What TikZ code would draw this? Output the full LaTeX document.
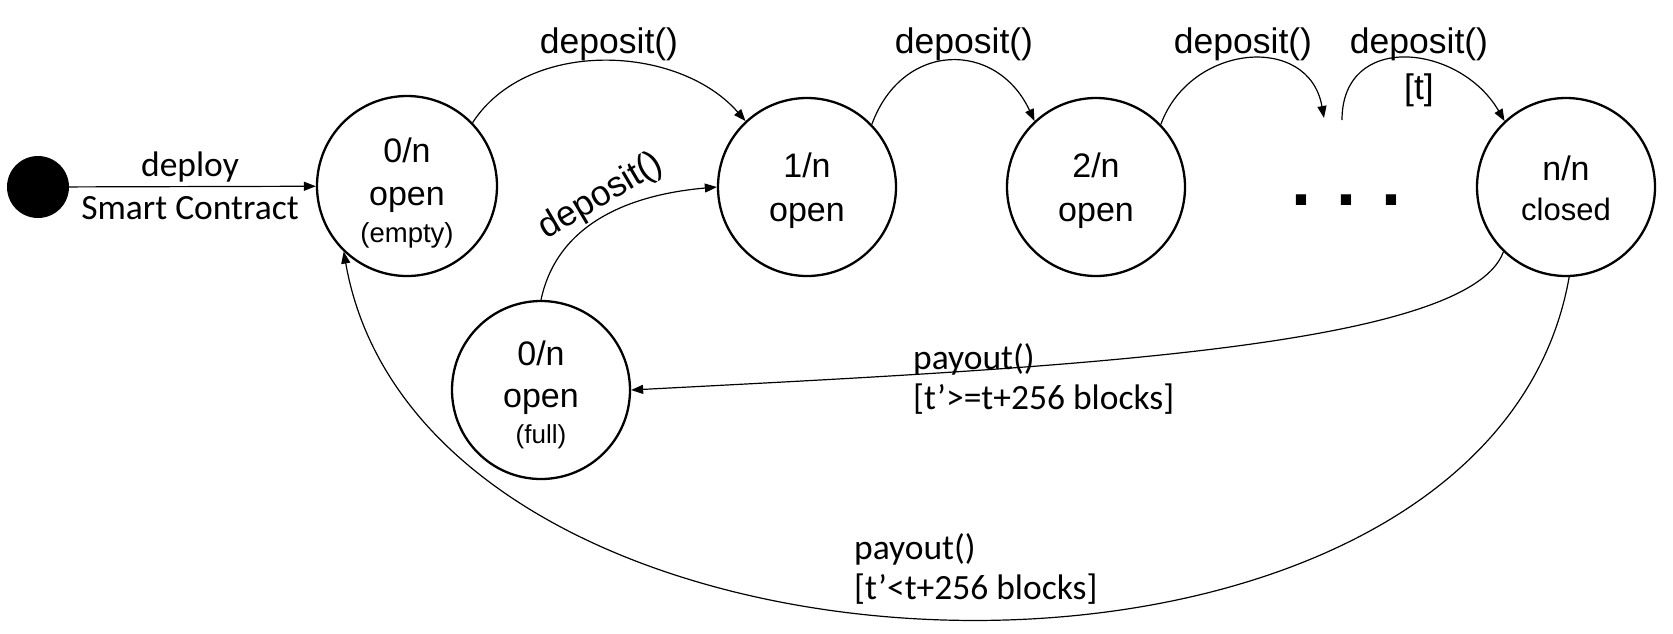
\documentclass[tikz,border=0pt]{standalone}
\usepackage{fontspec}
\setmainfont{Liberation Sans}
\newfontfamily\calibri{Carlito}
\usetikzlibrary{arrows.meta}
\newcommand{\smalltxt}[2]{{\fontsize{#1}{#1}\selectfont #2}}
\tikzset{
  stnode/.style={circle,draw,line width=2.3pt,minimum size=178pt,inner sep=0pt,align=center,font=\fontsize{34}{43}\selectfont},
  trans/.style={->,line width=1.2pt},
  evlabel/.style={inner sep=0pt,font=\fontsize{35.5}{40}\selectfont},
  guard/.style={inner sep=0pt,align=left,font=\calibri\fontsize{35.5}{40}\selectfont}
}
\begin{document}
\begin{tikzpicture}[x=1pt,y=1pt,>={Triangle[length=12pt,width=9pt]}]
\useasboundingbox (0,0) rectangle (1673,-633);
%
\node (init) at (38,-187) [circle,fill,minimum size=62pt,inner sep=0pt] {};
\node (empty) at (407,-186) [stnode,minimum size=180pt] {\rule{0pt}{38pt}0/n\\open\\[-6pt]\smalltxt{27.5}{(empty)}};
\node (one) at (807,-187) [stnode] {\rule{0pt}{33pt}1/n\\[1pt]open};
\node (two) at (1096,-187) [stnode] {\rule{0pt}{33pt}2/n\\[1pt]open};
\node (closed) at (1566,-187) [stnode] {\rule{0pt}{26.5pt}n/n\\[-3pt]\smalltxt{31}{closed}};
\node (full) at (541,-390) [stnode] {\rule{0pt}{33.5pt}0/n\\[-1pt]open\\[-7pt]\smalltxt{26}{(full)}};
\node (dots) at (1346,-200) [inner sep=0pt,font=\bfseries\fontsize{72}{72}\selectfont] {.\kern25pt.\kern25pt.};
\coordinate (d1) at (1324,-118);
\coordinate (d2) at (1342,-120);
%
\draw [trans] (init) -- (empty);
\node (deploy) at (190,-167.5) [guard] {deploy};
\node (sc) at (190,-208.5) [guard] {Smart Contract};
%
\draw [trans] (empty.44) to [out=57,in=131,looseness=0.95] (one.133);
\draw [trans] (one.44) to [out=70,in=115,looseness=1.4] (two.133);
\draw [trans] (two.44) to [out=70,in=100,looseness=1.35] (d1);
\draw [trans] (d2) to [out=90,in=120,looseness=1.4] (closed.133);
\draw [trans] (full.north) to [out=78,in=185] (one.west);
\node (dep1) at (609,-44) [evlabel] {deposit()};
\node (dep2) at (964,-44) [evlabel] {deposit()};
\node (dep3) at (1243,-44) [evlabel] {deposit()};
\node (dep4) at (1419,-44) [evlabel] {deposit()};
\node (tg) at (1419,-90) [evlabel] {[t]};
\node (dep5) at (601,-197) [evlabel,rotate=30.5] {deposit()};
%
\draw [trans] (closed.226) .. controls +(250:104) and +(3:415) .. (full.east);
\draw [trans] (closed.272) .. controls +(-100:480) and +(-80:480) .. (empty.226);
\node (pay1) at (913,-379) [guard,anchor=west] {payout()\\{[}t’>=t+256 blocks]};
\node (pay2) at (854,-568.5) [guard,anchor=west] {payout()\\{[}t’<t+256 blocks]};
\end{tikzpicture}
\end{document}
